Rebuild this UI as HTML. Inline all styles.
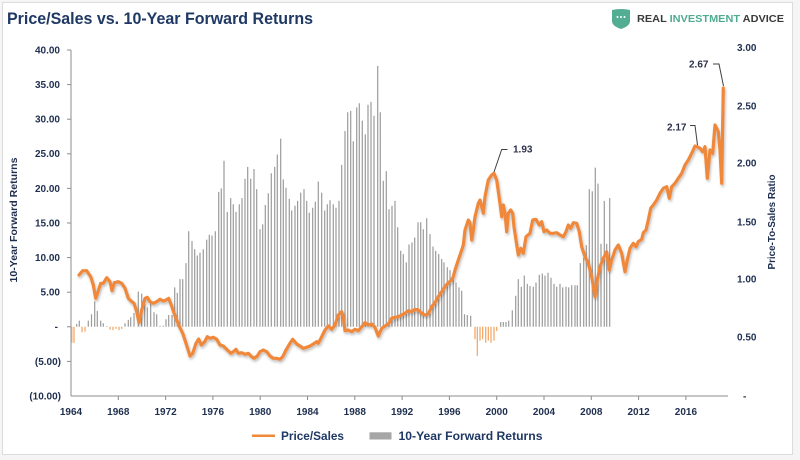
<!DOCTYPE html>
<html>
<head>
<meta charset="utf-8">
<style>
html,body{margin:0;padding:0;background:#f5f5f5;}
svg{display:block;}
text{font-family:"Liberation Sans",Arial,sans-serif;font-weight:bold;}
</style>
</head>
<body>
<svg width="800" height="460" viewBox="0 0 800 460" xmlns="http://www.w3.org/2000/svg">
<defs>
<filter id="sh" x="-5%" y="-5%" width="110%" height="120%">
<feDropShadow dx="1" dy="2" stdDeviation="1.2" flood-color="#000" flood-opacity="0.25"/>
</filter>
</defs>
<rect x="2.5" y="2.5" width="790" height="452" fill="#ffffff" stroke="#dcdcdc" stroke-width="1"/>

<!-- Title -->
<text x="7" y="24" font-size="16.5" fill="#1f3864" textLength="306" lengthAdjust="spacingAndGlyphs">Price/Sales vs. 10-Year Forward Returns</text>

<!-- Logo -->
<path d="M612,10 Q621,8 630,10 L630,21 Q630,26 621,29 Q612,26 612,21 Z" fill="#52ad93"/>
<circle cx="617.5" cy="17" r="1" fill="#fff"/>
<circle cx="621" cy="17" r="1" fill="#fff"/>
<circle cx="624.5" cy="17" r="1" fill="#fff"/>
<text x="637" y="22" font-size="10.5" fill="#3a3a3a" textLength="147" lengthAdjust="spacingAndGlyphs" style="font-weight:600">REAL <tspan fill="#4fab91">INVESTMENT</tspan> ADVICE</text>

<!-- Left axis -->
<g stroke="#8c8c8c" stroke-width="1">
<line x1="71" y1="50" x2="71" y2="396"/>
<line x1="67" y1="50" x2="71" y2="50"/>
<line x1="67" y1="84.6" x2="71" y2="84.6"/>
<line x1="67" y1="119.2" x2="71" y2="119.2"/>
<line x1="67" y1="153.8" x2="71" y2="153.8"/>
<line x1="67" y1="188.4" x2="71" y2="188.4"/>
<line x1="67" y1="223" x2="71" y2="223"/>
<line x1="67" y1="257.6" x2="71" y2="257.6"/>
<line x1="67" y1="292.2" x2="71" y2="292.2"/>
<line x1="67" y1="326.8" x2="71" y2="326.8"/>
<line x1="67" y1="361.4" x2="71" y2="361.4"/>
<line x1="71" y1="396" x2="728" y2="396"/>
<line x1="118.3" y1="396" x2="118.3" y2="400"/>
<line x1="165.6" y1="396" x2="165.6" y2="400"/>
<line x1="212.9" y1="396" x2="212.9" y2="400"/>
<line x1="260.2" y1="396" x2="260.2" y2="400"/>
<line x1="307.5" y1="396" x2="307.5" y2="400"/>
<line x1="354.8" y1="396" x2="354.8" y2="400"/>
<line x1="402.1" y1="396" x2="402.1" y2="400"/>
<line x1="449.4" y1="396" x2="449.4" y2="400"/>
<line x1="496.7" y1="396" x2="496.7" y2="400"/>
<line x1="544" y1="396" x2="544" y2="400"/>
<line x1="591.3" y1="396" x2="591.3" y2="400"/>
<line x1="638.6" y1="396" x2="638.6" y2="400"/>
<line x1="685.9" y1="396" x2="685.9" y2="400"/>
</g>

<g font-size="10" fill="#1f2f4f" text-anchor="end">
<text x="60" y="53.5">40.00</text>
<text x="60" y="88">35.00</text>
<text x="60" y="122.6">30.00</text>
<text x="60" y="157.2">25.00</text>
<text x="60" y="191.8">20.00</text>
<text x="60" y="226.4">15.00</text>
<text x="60" y="261">10.00</text>
<text x="60" y="295.6">5.00</text>
<text x="58" y="330.2">-</text>
<text x="61" y="364.8">(5.00)</text>
<text x="61" y="399.4">(10.00)</text>
</g>

<g font-size="10" fill="#1f2f4f">
<text x="737" y="51">3.00</text>
<text x="737" y="109.5">2.50</text>
<text x="737" y="166.5">2.00</text>
<text x="737" y="225.5">1.50</text>
<text x="737" y="282.5">1.00</text>
<text x="737" y="340.5">0.50</text>
<text x="743" y="399.4">-</text>
</g>

<g font-size="10" fill="#1f2f4f" text-anchor="middle">
<text x="71" y="415">1964</text>
<text x="118.3" y="415">1968</text>
<text x="165.6" y="415">1972</text>
<text x="212.9" y="415">1976</text>
<text x="260.2" y="415">1980</text>
<text x="307.5" y="415">1984</text>
<text x="354.8" y="415">1988</text>
<text x="402.1" y="415">1992</text>
<text x="449.4" y="415">1996</text>
<text x="496.7" y="415">2000</text>
<text x="544" y="415">2004</text>
<text x="591.3" y="415">2008</text>
<text x="638.6" y="415">2012</text>
<text x="685.9" y="415">2016</text>
</g>

<!-- Axis titles -->
<text transform="translate(17,220) rotate(-90)" font-size="10.5" fill="#1f2f4f" text-anchor="middle" textLength="125" lengthAdjust="spacingAndGlyphs">10-Year Forward Returns</text>
<text transform="translate(775,222) rotate(-90)" font-size="10.5" fill="#1f2f4f" text-anchor="middle" textLength="95" lengthAdjust="spacingAndGlyphs">Price-To-Sales Ratio</text>

<!-- Positive bars -->
<path fill="none" stroke="#9b9b9b" stroke-width="1.2" d="
M76.7 326.8V324 M79.3 326.8V320.6 M88.3 326.8V320.6 M91.5 326.8V314.3 M94.7 326.8V301.2 M97.3 326.8V310.9 M100.7 326.8V320.6 M103.3 326.8V323.3 M106.7 326.8V326.1
M125 326.8V323.3 M128.3 326.8V319.9 M130.7 326.8V317.1 M134 326.8V313 M138.3 326.8V291.5 M141.7 326.8V293.6 M144.7 326.8V304.3 M147.3 326.8V307.4 M150.7 326.8V302.6 M154 326.8V312.3 M156.7 326.8V314.3 M160 326.8V325.8 M163.3 326.8V325.8 M166 326.8V319.2 M168.7 326.8V315 M172 326.8V315
M174.7 326.8V287.4 M177.3 326.8V292.9 M180 326.8V279.1 M182.7 326.8V279.1 M186 326.8V263.1 M188.7 326.8V231.3 M192 326.8V241 M194.7 326.8V249.3 M197.3 326.8V255.5 M200 326.8V252.8 M203.3 326.8V249.3 M206.7 326.8V239.6 M209.3 326.8V234.8 M212 326.8V235.5 M215.3 326.8V231.3
M218.7 326.8V191.9 M221.3 326.8V188.4 M224 326.8V160.7 M227.3 326.8V211.9 M230.7 326.8V198.1 M233.3 326.8V204.3 M236 326.8V211.9 M239.3 326.8V204.3 M242 326.8V198.1 M245 326.8V178.7 M247.7 326.8V166.9 M250.7 326.8V178.7 M254 326.8V169 M256.7 326.8V189.1 M260 326.8V229.2 M262.7 326.8V224.4 M265.3 326.8V205 M268.3 326.8V193.2 M271.3 326.8V173.2 M274.7 326.8V166.9 M277.3 326.8V154.5 M280.7 326.8V138.6 M283.3 326.8V179.4 M286 326.8V187.7 M289.3 326.8V198.8
M291.7 326.8V210.5 M295 326.8V205.7 M297.6 326.8V200.9 M300.7 326.8V192.6 M304 326.8V189.1 M306.7 326.8V200.9 M309.3 326.8V212.6 M312.7 326.8V207.8 M315.3 326.8V201.6 M318.3 326.8V181.5 M321.7 326.8V192.6 M324.7 326.8V210.5 M327.3 326.8V204.3 M330 326.8V200.2 M333.3 326.8V204.3 M336 326.8V207.8 M339 326.8V200.9
M341.7 326.8V164.9 M345 326.8V131 M347.7 326.8V112.3 M350.7 326.8V110.9 M353.3 326.8V141.3 M356.7 326.8V107.4 M359.3 326.8V103.3 M362.3 326.8V120.6 M365.3 326.8V134.4 M368 326.8V104.7 M371 326.8V101.9 M374 326.8V115.7 M377.7 326.8V65.9 M380.3 326.8V112.3 M383.3 326.8V180.8 M386.3 326.8V171.1 M389 326.8V209.2 M392 326.8V205.7 M395 326.8V200.9
M397.7 326.8V227.2 M400.7 326.8V250.7 M403.3 326.8V254.1 M406.3 326.8V262.4 M409 326.8V244.5 M412 326.8V242.4 M414.7 326.8V237.5 M418 326.8V222.3 M420.7 326.8V222.3 M423.3 326.8V229.2 M426.7 326.8V218.2 M430 326.8V234.1 M433 326.8V246.5 M435.7 326.8V250.7 M438.7 326.8V254.1 M441.7 326.8V259 M444 326.8V262.4 M447.3 326.8V267.3 M450 326.8V270.1 M453.3 326.8V277 M456 326.8V282.5 M459 326.8V287.4 M461.7 326.8V290.8 M464.5 326.8V314.3 M467.3 326.8V315 M470.7 326.8V315.7
M500.7 326.8V322 M503.3 326.8V322 M506 326.8V322 M508.7 326.8V320.6 M512.3 326.8V310.2 M515.7 326.8V295.7 M518.3 326.8V279.1 M521.3 326.8V286.7 M524.3 326.8V275.6 M527.3 326.8V283.9 M530 326.8V286 M533.3 326.8V286.7 M536 326.8V282.5 M539.3 326.8V274.9 M542.3 326.8V273.5 M545 326.8V275.6 M548 326.8V272.8 M551 326.8V277.7 M554 326.8V283.9 M556.7 326.8V286.7 M560 326.8V283.9 M562.7 326.8V287.4 M566 326.8V286.7 M568.7 326.8V287.4 M571.7 326.8V285.3 M575 326.8V285.3 M577.3 326.8V285.3
M580.3 326.8V263.1 M583.7 326.8V257.6 M586.3 326.8V245.1 M589.3 326.8V189.1 M592.3 326.8V191.2 M595.3 326.8V167.6 M598 326.8V183.6 M601 326.8V243.8 M604.3 326.8V200.9 M606.7 326.8V243.8 M609.7 326.8V198.1
"/>

<!-- Negative bars -->
<path fill="none" stroke="#f4a25e" stroke-width="1.2" d="
M71.8 326.8V342.7 M74 326.8V342.7 M82 326.8V332.3 M85 326.8V331.6 M110 326.8V329.6 M113 326.8V330.3 M116 326.8V328.9 M119 326.8V330.3 M121.7 326.8V328.9
M475 326.8V339.3 M477.3 326.8V355.9 M480 326.8V340.6 M482.7 326.8V339.3 M485.7 326.8V342.7 M488.3 326.8V340.6 M491 326.8V342.7 M494 326.8V340.6 M496.7 326.8V331
"/>

<!-- Price/Sales line -->
<polyline filter="url(#sh)" fill="none" stroke="#f0883a" stroke-width="3.2" stroke-linejoin="round" stroke-linecap="round" points="
79,275 82.7,270.7 86.7,270.7 90.7,276.7 93.3,285 95.7,298.3 98,291.7 100.7,283.3 103.3,283.3 106.7,277.7 110,281.7 112,290.7 114.3,282.7 118.3,281.7 121.7,283.3 125,288.3 128.3,298.3 131,301 134,303.3 136.7,311.7 139,322.7 141.7,310 145,298.3 147.3,297.3 150,301.7 153.3,303.3 156.7,301.7 160,299.3 163.3,301 166,300 168.7,298.3 171.3,305 174.7,315 178.7,325 182.7,333.3 186,343.3 190,356 192.7,353.3 196,343.3 198.7,339 201.3,345 204.7,341.7 207.3,336.7 210,338.3 213.3,337.3 216.7,339.3 220,345 223.3,346 226.7,349.3 230.7,353.3 233.3,351.7 236,349.3 238.3,353.3 241.7,352.7 245,354.3 248.3,353.3 251.7,356.7 254,358.3 257.3,356 260,351.7 263.3,350 266.7,351.7 270,356 273.3,358.3 276.7,358.3 280,359.3 282.7,356.7 286,350 290,343.3 292.7,339.3
296.7,344 300,346 303.3,348.3 306.7,347.3 310,346 313.3,344 316.7,341.7 318.3,343.3 321.7,336.7 325,330 328.3,326 331.7,329.3 335,325 338.3,315 341.7,311.7 343.3,316.7 345,330.7 348.3,330 351.7,331.7 355,329.3 358.3,330.7 361.7,326.7 365,322.7 368.3,325 371.7,324 375,327.3 378.3,336 381.7,328.3 385,326 388.3,324 391.7,318.3 395,317.3 398.3,316.7 401.7,315 405,313.3 408.3,310.7 411.7,311.7 415,309.3 418.3,310 421.7,313.3 425,315 428.3,314 431.7,306.7 435,302.7 438.3,296.7 441.7,291.7 445,286.7 448.3,282.7 451.7,280 453.3,276.7 455,270 458.3,260 461.7,250 463.3,245 465,230 468.3,220 470,222.7 471.7,240 473.3,230 475,216.7 478.3,203.3 480,200 483.3,213.3 485,196.7 488.3,180 491.7,175 494,173.3
496.7,180 500,203.3 501.7,216.7 503.3,205 505,213.3 506.7,231.7 508.3,213.3 510.7,210 512.7,213.3 514,226.7 516,240 518.3,255 520.7,248.3 523.3,253.3 526,236.7 530,233.3 532.7,220 536,219.3 539.3,225 541.7,221.7 544,231.7 546.7,230 550,233.3 553.3,233.3 556.7,232.7 560,235 563.3,236.7 566,231.7 568.3,225 570.7,228.3 573.3,222.7 576.7,223.3 579.3,231.7 581.7,246.7 585,256.7 588.3,263.3 591.7,276.7 595,296.7 597.3,280 600,266.7 603.3,258.3 606.7,251.7 609.3,270 611.7,260 615,250 618.3,245 621.7,253.3 625,271.7 627.3,260 630,248.3 633.3,243.3 636,246.7 638.3,241.7 641.7,239.3 643.3,232.7 646,230 648.3,220 650.7,208.3 653.3,205 656.7,200 660,193.3 663.3,188.3 666.7,186.7 669.3,198.3 671.7,186.7 675,183.3 678.3,178.3 681.7,173.3 685,165 688.3,160 691.7,153.3 695,146 697.3,146.7 700,148.3 702.7,151.7 705,146.7 707.3,178.3 710,150 712.7,153.3 715,125 718.3,131.7 720,150 721.7,183.3 723.3,88
"/>

<!-- Annotations -->
<g fill="none" stroke="#404040" stroke-width="1">
<polyline points="494,172 501.7,149.5 507.5,149.5"/>
<polyline points="690,125.5 695,125.5 697.5,145"/>
<polyline points="713,64 719,64 723.5,86"/>
</g>
<g font-size="10" fill="#2b3048">
<text x="513" y="152.5">1.93</text>
<text x="667" y="130.5">2.17</text>
<text x="689" y="67.5">2.67</text>
</g>

<!-- Legend -->
<line x1="252" y1="435.8" x2="275" y2="435.8" stroke="#f0883a" stroke-width="2.5"/>
<text x="281" y="440" font-size="12" fill="#1f3864" textLength="63" lengthAdjust="spacingAndGlyphs">Price/Sales</text>
<rect x="369.5" y="432.3" width="22" height="7.2" fill="#a6a6a6"/>
<text x="398.5" y="440" font-size="12" fill="#1f3864" textLength="144" lengthAdjust="spacingAndGlyphs">10-Year Forward Returns</text>
</svg>
</body>
</html>
